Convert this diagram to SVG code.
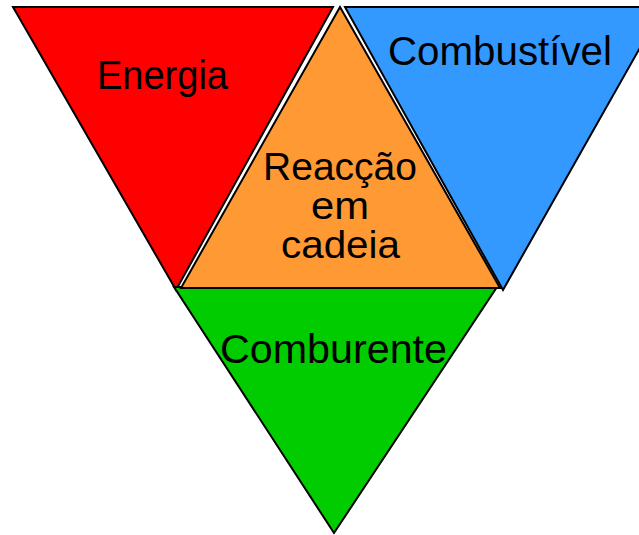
<svg xmlns="http://www.w3.org/2000/svg" width="639" height="535" viewBox="0 0 639 535">
<style>
.tri{stroke:#000;stroke-width:2;stroke-linejoin:miter}
.lbl{font-family:"Liberation Sans",Arial,sans-serif;font-size:40px;fill:#000}
.mid{font-size:38px}
</style>
<rect width="639" height="535" fill="#fff"/>
<g id="energia">
<polygon class="tri" points="13,7 333,7 176,290" fill="#ff0000"/>
<text class="lbl" x="97" y="89" textLength="131" lengthAdjust="spacingAndGlyphs">Energia</text>
</g>
<g id="combustivel">
<polygon class="tri" points="345,7 663,7 503,290" fill="#3399ff"/>
<text class="lbl" x="388" y="65" textLength="224" lengthAdjust="spacingAndGlyphs">Combustível</text>
</g>
<g id="comburente">
<polygon class="tri" points="174,287 497,287 334,533" fill="#00cc00"/>
<text class="lbl" x="220" y="363" textLength="227" lengthAdjust="spacingAndGlyphs">Comburente</text>
</g>
<g id="reaccao">
<polygon class="tri" points="340,7 181,288 500,288" fill="#ff9933"/>
<text class="lbl mid" x="263" y="180" textLength="154" lengthAdjust="spacingAndGlyphs">Reacção</text>
<text class="lbl mid" x="311" y="219" textLength="58" lengthAdjust="spacingAndGlyphs">em</text>
<text class="lbl mid" x="281" y="258" textLength="119" lengthAdjust="spacingAndGlyphs">cadeia</text>
</g>
<g id="connectors"></g>
</svg>
